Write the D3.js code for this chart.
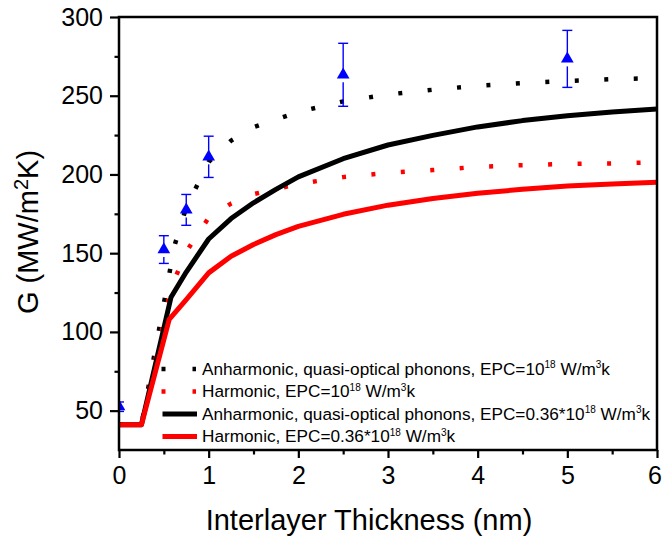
<!DOCTYPE html>
<html>
<head>
<meta charset="utf-8">
<script src="https://cdnjs.cloudflare.com/ajax/libs/d3/7.8.5/d3.min.js"></script>
<style>
body{margin:0;background:#fff;}
text{font-family:"Liberation Sans",Arial,sans-serif;fill:#000;}
</style>
</head>
<body>
<script>
// values
const anhX = [0, 0.25, 0.62, 0.75, 1, 1.25, 1.5, 2, 2.5, 3, 3.5, 4, 4.5, 5, 5.5, 6];
const anhG = [41, 41, 155, 179, 208, 221.5, 230, 239.7, 246.4, 250.8, 253.8, 256.3, 258, 259.4, 260.5, 261.2];
const harX = [0, 0.25, 0.58, 0.75, 1, 1.25, 1.5, 2, 2.5, 3, 3.5, 4, 4.5, 5, 5.5, 6];
const harG = [41, 41, 128, 151, 172.5, 181.5, 187.5, 194, 198.3, 201, 202.8, 204.8, 205.9, 206.7, 207, 207.7];
const anh036X = [0, 0.25, 0.58, 0.75, 1, 1.25, 1.5, 1.75, 2, 2.5, 3, 3.5, 4, 4.5, 5, 5.5, 6];
const anh036G = [41, 41, 122, 138, 159, 172, 182, 190.5, 198.5, 210, 218.7, 224.8, 230.2, 234.2, 237.3, 239.6, 241.5];
const har036X = [0, 0.25, 0.56, 0.75, 1, 1.25, 1.5, 1.75, 2, 2.5, 3, 3.5, 4, 4.5, 5, 5.5, 6];
const har036G = [41, 41, 108, 120.5, 137.5, 148, 155.5, 161.8, 167, 174.7, 180.5, 184.7, 188, 190.6, 192.7, 194, 195];
const expX = [0, 0.5, 0.75, 1, 2.5, 5];
const expG = [52.5, 152.3, 177.5, 211.2, 263.3, 273.4];
const expErr = [3, 8.8, 9.8, 13.1, 20, 18.1];
const xTicks = [0, 1, 2, 3, 4, 5, 6];
const xMinor = [0.5, 1.5, 2.5, 3.5, 4.5, 5.5];
const yTicks = [50, 100, 150, 200, 250, 300];
const yMinor = [75, 125, 175, 225, 275];
const legendLabels = [
  [["Anharmonic, quasi-optical phonons, EPC=10", 0], ["18", 1], [" W/m", 0], ["3", 1], ["k", 0]],
  [["Harmonic, EPC=10", 0], ["18", 1], [" W/m", 0], ["3", 1], ["k", 0]],
  [["Anharmonic, quasi-optical phonons, EPC=0.36*10", 0], ["18", 1], [" W/m", 0], ["3", 1], ["k", 0]],
  [["Harmonic, EPC=0.36*10", 0], ["18", 1], [" W/m", 0], ["3", 1], ["k", 0]]
];

var w = 662, h = 545;
const pLeft = 119, pRight = 657, pTop = 17, pBottom = 450;

const svg = d3.select("body").append("svg")
  .attr("width", w).attr("height", h);

const xScale = d3.scaleLinear().domain([0, 6]).range([pLeft, pRight]);
const yScale = d3.scaleLinear().domain([25, 300]).range([pBottom, pTop]);

svg.append("clipPath").attr("id", "plot")
  .append("rect").attr("x", pLeft).attr("y", pTop)
  .attr("width", pRight - pLeft).attr("height", pBottom - pTop);

const series = [
  {x: anhX, y: anhG, color: "#000", dash: "4,25.5", width: 4.5},
  {x: harX, y: harG, color: "#f00", dash: "4,25.5", width: 4.5},
  {x: anh036X, y: anh036G, color: "#000", dash: null, width: 5},
  {x: har036X, y: har036G, color: "#f00", dash: null, width: 5}
];

const line = d3.line().x(d => xScale(d[0])).y(d => yScale(d[1]));
const g = svg.append("g").attr("clip-path", "url(#plot)");

series.forEach(function(s) {
  g.append("path")
    .datum(s.x.map((v, i) => [v, s.y[i]]))
    .attr("d", line)
    .attr("fill", "none")
    .attr("stroke", s.color)
    .attr("stroke-width", s.width)
    .attr("stroke-linejoin", "round")
    .attr("stroke-dasharray", s.dash);
});

// experimental points with error bars
const pts = expX.map((v, i) => ({x: v, y: expG[i], e: expErr[i]}));
const eb = g.selectAll(".err").data(pts).enter().append("g")
  .attr("stroke", "#0000ff").attr("stroke-width", 1.4).attr("fill", "none");
eb.append("line")
  .attr("x1", d => xScale(d.x)).attr("x2", d => xScale(d.x))
  .attr("y1", d => yScale(d.y + d.e)).attr("y2", d => yScale(d.y));
eb.append("line")
  .attr("x1", d => xScale(d.x)).attr("x2", d => xScale(d.x))
  .attr("y1", d => Math.min(yScale(d.y) + 7.5, yScale(d.y - d.e))).attr("y2", d => yScale(d.y - d.e));
eb.append("line")
  .attr("x1", d => xScale(d.x) - 5).attr("x2", d => xScale(d.x) + 5)
  .attr("y1", d => yScale(d.y + d.e)).attr("y2", d => yScale(d.y + d.e));
eb.append("line")
  .attr("x1", d => xScale(d.x) - 5).attr("x2", d => xScale(d.x) + 5)
  .attr("y1", d => yScale(d.y - d.e)).attr("y2", d => yScale(d.y - d.e));

g.selectAll(".tri").data(pts).enter().append("path")
  .attr("d", d3.symbol().type(d3.symbolTriangle).size(70))
  .attr("transform", d => "translate(" + xScale(d.x) + "," + yScale(d.y) + ")")
  .attr("fill", "#0000ff");

// axes
const xAxis = svg.append("g").attr("transform", "translate(0," + pBottom + ")")
  .call(d3.axisBottom(xScale).tickValues(xTicks).tickSize(8).tickPadding(8).tickFormat(d3.format("d")));
svg.append("g").attr("transform", "translate(0," + pBottom + ")")
  .call(d3.axisBottom(xScale).tickValues(xMinor).tickSize(4.5).tickFormat(""));
const yAxis = svg.append("g").attr("transform", "translate(" + pLeft + ",0)")
  .call(d3.axisLeft(yScale).tickValues(yTicks).tickSize(9).tickPadding(7).tickFormat(d3.format("d")));
svg.append("g").attr("transform", "translate(" + pLeft + ",0)")
  .call(d3.axisLeft(yScale).tickValues(yMinor).tickSize(4.5).tickFormat(""));

svg.selectAll(".domain").remove();
svg.selectAll(".tick line").attr("stroke", "#000").attr("stroke-width", 2.2);
xAxis.selectAll("text").attr("font-size", 25).attr("dy", "0.71em");
// last label sits against the page edge
xAxis.selectAll("text").filter(d => d === 6).attr("dx", -2.5);
yAxis.selectAll("text").attr("font-size", 25);
svg.selectAll(".tick text").attr("font-family", "Liberation Sans, Arial, sans-serif").attr("fill", "#000");

// frame
svg.append("rect")
  .attr("x", pLeft).attr("y", pTop)
  .attr("width", pRight - pLeft).attr("height", pBottom - pTop)
  .attr("fill", "none").attr("stroke", "#000").attr("stroke-width", 2.5);

// titles
svg.append("text")
  .attr("x", 369).attr("y", 530)
  .attr("text-anchor", "middle").attr("font-size", 29)
  .text("Interlayer Thickness (nm)");

const yt = svg.append("text")
  .attr("transform", "translate(38,232) rotate(-90)")
  .attr("text-anchor", "middle").attr("font-size", 29);
yt.append("tspan").text("G (MW/m");
yt.append("tspan").attr("font-size", 20).attr("dy", -10).text("2");
yt.append("tspan").attr("dy", 10).text("K)");

// legend
const legY = [369, 391.5, 414, 436.5];
legendLabels.forEach(function(parts, i) {
  const s = series[i];
  svg.append("line")
    .attr("x1", s.dash ? 161.5 : 162.5).attr("x2", s.dash ? 196 : 197)
    .attr("y1", legY[i]).attr("y2", legY[i])
    .attr("stroke", s.color).attr("stroke-width", s.dash ? 4.5 : 5)
    .attr("stroke-dasharray", s.dash ? "4,27" : null);
  const t = svg.append("text")
    .attr("x", 202).attr("y", legY[i] + 5.5)
    .attr("font-size", 17.2);
  let up = false;
  parts.forEach(function(p) {
    const sp = t.append("tspan").text(p[0]);
    if (p[1] && !up) { sp.attr("font-size", 10).attr("dy", -6.5); up = true; }
    else if (!p[1] && up) { sp.attr("dy", 6.5); up = false; }
    else if (p[1]) sp.attr("font-size", 10);
  });
});
</script>
</body>
</html>
